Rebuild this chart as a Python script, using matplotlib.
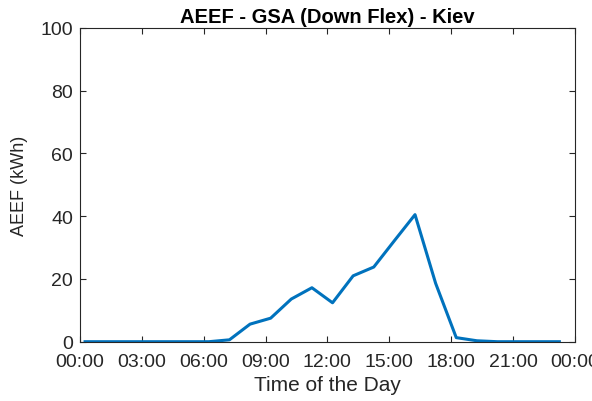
import numpy as np
import matplotlib.pyplot as plt

plt.rcParams['font.family'] = ['Liberation Sans', 'DejaVu Sans']

# hourly samples (quarter past each hour)
hours = np.arange(24) + 0.25
aeef = [0, 0, 0, 0, 0, 0, 0, 0.6, 5.6, 7.5, 13.6, 17.2,
        12.4, 21.0, 23.8, 32.2, 40.5, 18.6, 1.3, 0.3, 0, 0, 0, 0]
tick_hours = np.arange(0, 25, 3)
tick_labels = ['00:00', '03:00', '06:00', '09:00', '12:00', '15:00', '18:00', '21:00', '00:00']

fig = plt.figure(figsize=(5.92, 4.02), dpi=100)
ax = fig.add_axes([0.135, 0.1475, 0.836, 0.7805])
ax.plot(hours, aeef, color='#0072BD', linewidth=2.2)

ax.set_xlim(0, 24)
ax.set_ylim(0, 100)
ax.set_xticks(tick_hours)
ax.set_xticklabels(tick_labels)
ax.set_yticks(np.arange(0, 101, 20))
ax.tick_params(direction='in', top=True, right=True, labelsize=14,
               colors='#262626', length=4, width=0.8)
ax.tick_params(axis='x', pad=8)
ax.tick_params(axis='y', pad=5)
for s in ax.spines.values():
    s.set_color('#262626')
    s.set_linewidth(0.8)

ax.set_xlabel('Time of the Day', fontsize=15, color='#262626', labelpad=4)
ax.set_ylabel('AEEF (kWh)', fontsize=13, color='#262626', labelpad=9)
ax.set_title('AEEF - GSA (Down Flex) - Kiev', fontsize=14.5, fontweight='bold', pad=4)

fig.savefig('out.png', dpi=100)
